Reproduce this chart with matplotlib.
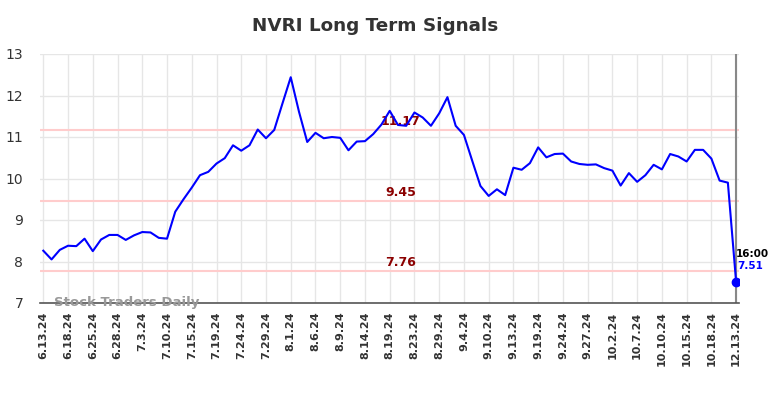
import matplotlib
matplotlib.use("Agg")
import matplotlib.pyplot as plt

tick_labels = ["6.13.24", "6.18.24", "6.25.24", "6.28.24", "7.3.24", "7.10.24", "7.15.24",
               "7.19.24", "7.24.24", "7.29.24", "8.1.24", "8.6.24", "8.9.24", "8.14.24",
               "8.19.24", "8.23.24", "8.29.24", "9.4.24", "9.10.24", "9.13.24", "9.19.24",
               "9.24.24", "9.27.24", "10.2.24", "10.7.24", "10.10.24", "10.15.24",
               "10.18.24", "12.13.24"]
tick_step = 3

prices = [8.26, 8.05, 8.28, 8.38, 8.37, 8.55, 8.25, 8.53, 8.64, 8.64,
          8.52, 8.63, 8.71, 8.70, 8.57, 8.55, 9.20, 9.50, 9.78, 10.08,
          10.16, 10.36, 10.49, 10.80, 10.67, 10.80, 11.18, 10.97, 11.17, 11.81,
          12.44, 11.61, 10.88, 11.10, 10.97, 11.00, 10.98, 10.68, 10.89, 10.90,
          11.07, 11.30, 11.63, 11.29, 11.27, 11.59, 11.47, 11.27, 11.57, 11.96,
          11.27, 11.05, 10.43, 9.82, 9.58, 9.74, 9.60, 10.26, 10.21, 10.37,
          10.75, 10.51, 10.59, 10.60, 10.41, 10.35, 10.33, 10.34, 10.25, 10.19,
          9.83, 10.13, 9.92, 10.08, 10.33, 10.22, 10.59, 10.53, 10.41, 10.69,
          10.69, 10.48, 9.95, 9.90, 7.51]

signal_levels = [11.17, 9.45, 7.76]
last_time = "16:00"

fig = plt.figure(figsize=(7.84, 3.98), dpi=100)
ax = fig.add_axes([40/784, 1-303/398, (739-40)/784, (303-54)/398])

x = list(range(len(prices)))
ax.set_xlim(-0.4, len(prices) - 1 + 0.35)
ax.set_ylim(7, 13)

ax.grid(True, color="#e6e6e6", linewidth=1)
ax.set_axisbelow(True)

for lvl in signal_levels:
    ax.axhline(lvl, color="#ffcccc", linewidth=1.5, zorder=1)
    ax.text(43.3, lvl + 0.05, f"{lvl:.2f}", color="#8b0000", fontsize=9, fontweight="bold",
            ha="center", va="bottom", zorder=3)

ax.plot(x, prices, color="#0000ff", linewidth=1.5, zorder=4)
ax.plot(x[-1], prices[-1], "o", color="#0000ff", markersize=6, zorder=5)
ax.axvline(x[-1], color="#888888", linewidth=1.5, zorder=2)

ax.text(x[-1], prices[-1] + 0.55, last_time, color="black", fontsize=7.5, fontweight="bold",
        ha="left", va="bottom", zorder=6)
ax.text(x[-1] + 0.1, prices[-1] + 0.5, f"{prices[-1]:.2f}", color="#0000ff", fontsize=7.5,
        fontweight="bold", ha="left", va="top", zorder=6)

ax.text(1.3, 7.0, "Stock Traders Daily", color="#999999", fontsize=9.5, fontweight="bold",
        ha="left", va="center", zorder=3)

ax.set_xticks([i * tick_step for i in range(len(tick_labels))])
ax.set_xticklabels(tick_labels, rotation=90, fontsize=8, fontweight="bold", color="#333333")
ax.set_yticks(range(7, 14))
ax.tick_params(axis="y", labelsize=10, colors="#333333", length=0, pad=12)
ax.tick_params(axis="x", length=0, pad=6)

for s in ["top", "right", "left"]:
    ax.spines[s].set_visible(False)
ax.spines["bottom"].set_color("#555555")
ax.spines["bottom"].set_linewidth(1.2)

fig.text(375/784, 1-26/398, "NVRI Long Term Signals", ha="center", va="center",
         fontsize=13.2, fontweight="bold", color="#333333")

fig.savefig("out.png", dpi=100)
